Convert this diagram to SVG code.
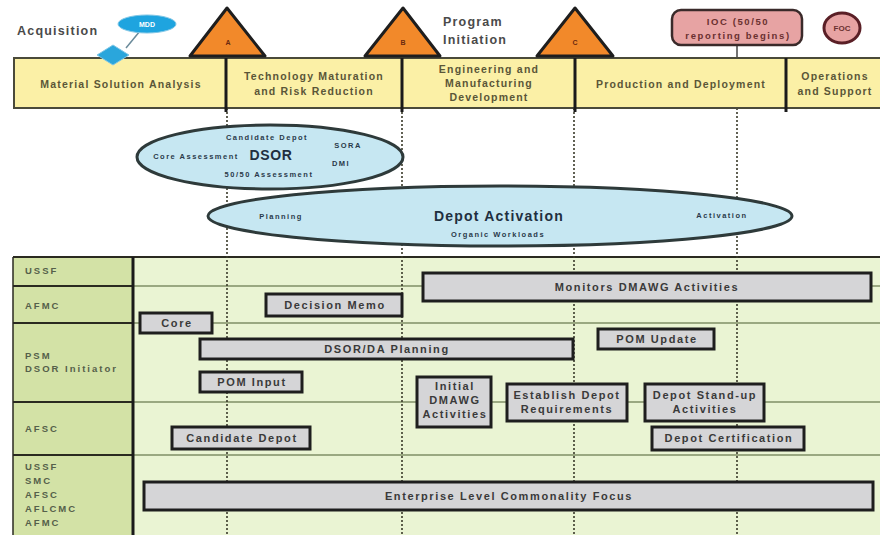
<svg xmlns="http://www.w3.org/2000/svg" width="880" height="535" viewBox="0 0 880 535">
<style>
text{font-family:"Liberation Sans",Arial,sans-serif;font-weight:bold}
.ph{fill:#fbf0a6;stroke:#4a4a3a;stroke-width:2}
.div{stroke:#1a1a1a;stroke-width:3}
.phl{font-size:10.5px;fill:#5a5638;text-anchor:middle;letter-spacing:1.2px}
.tri{fill:#f2892a;stroke:#1e1e1e;stroke-width:3;stroke-linejoin:round}
.tl{font-size:7px;fill:#6a2a10;text-anchor:middle}
.ell{fill:#c6e7f2;stroke:#2e3a3a;stroke-width:3}
.el{font-size:7.5px;fill:#2a3a4a;text-anchor:middle;letter-spacing:1.5px}
.bar{fill:#d5d5d7;stroke:#1e1e1e;stroke-width:3}
.bl{font-size:11px;fill:#3a3a3a;text-anchor:middle;letter-spacing:1.6px}
.rl{font-size:9.5px;fill:#55604a;letter-spacing:2px}
.hd{font-size:12.5px;fill:#4a4a4a;letter-spacing:1.2px}
.dash{stroke:#3a3a2a;stroke-width:1.6;stroke-dasharray:2 2;fill:none}
.row{stroke:#7f8f66;stroke-width:1.5}
.rowk{stroke:#2a2a20;stroke-width:2}
</style>
<rect width="880" height="535" fill="#ffffff"/>

<!-- swimlane grid background -->
<g id="grid">
<rect x="13" y="257" width="120" height="280" fill="#d3e2a6"/>
<rect x="133" y="257" width="747" height="280" fill="#eaf4d3"/>
<line class="rowk" x1="13" y1="257" x2="880" y2="257"/>
<line class="rowk" x1="13" y1="286" x2="133" y2="286"/>
<line class="row" x1="133" y1="286" x2="880" y2="286"/>
<line class="rowk" x1="13" y1="323" x2="133" y2="323"/>
<line class="row" x1="133" y1="323" x2="880" y2="323"/>
<line class="rowk" x1="13" y1="402" x2="133" y2="402"/>
<line class="row" x1="133" y1="402" x2="880" y2="402"/>
<line class="rowk" x1="13" y1="455" x2="133" y2="455"/>
<line class="row" x1="133" y1="455" x2="880" y2="455"/>
<line stroke="#2a2a20" stroke-width="1.5" x1="13" y1="257" x2="13" y2="535"/>
<line stroke="#1a1a1a" stroke-width="3" x1="133" y1="257" x2="133" y2="535"/>
<text class="rl" x="25" y="274">USSF</text>
<text class="rl" x="25" y="309">AFMC</text>
<text class="rl" x="25" y="359">PSM</text>
<text class="rl" x="25" y="372">DSOR Initiator</text>
<text class="rl" x="25" y="432">AFSC</text>
<text class="rl" x="25" y="470">USSF</text>
<text class="rl" x="25" y="484">SMC</text>
<text class="rl" x="25" y="498">AFSC</text>
<text class="rl" x="25" y="512">AFLCMC</text>
<text class="rl" x="25" y="526">AFMC</text>
</g>

<!-- connectors -->
<g id="connectors">
<line class="dash" x1="227" y1="108" x2="227" y2="535"/>
<line class="dash" x1="402" y1="108" x2="402" y2="535"/>
<line class="dash" x1="574" y1="108" x2="574" y2="535"/>
<line class="dash" x1="737" y1="108" x2="737" y2="535"/>
<line x1="126" y1="48" x2="140" y2="31" stroke="#6a8a9a" stroke-width="1.5"/>
<line x1="737" y1="45" x2="737" y2="58" stroke="#444" stroke-width="1.5"/>
</g>

<!-- phase bar -->
<g id="phases">
<rect class="ph" x="14" y="58" width="870" height="50"/>
<line class="div" x1="226" y1="58" x2="226" y2="112"/>
<line class="div" x1="402" y1="58" x2="402" y2="112"/>
<line class="div" x1="575" y1="58" x2="575" y2="112"/>
<line class="div" x1="786" y1="58" x2="786" y2="112"/>
<text class="phl" x="121" y="88">Material Solution Analysis</text>
<text class="phl" x="314" y="80">Technology Maturation</text>
<text class="phl" x="314" y="95">and Risk Reduction</text>
<text class="phl" x="489" y="73">Engineering and</text>
<text class="phl" x="489" y="87">Manufacturing</text>
<text class="phl" x="489" y="101">Development</text>
<text class="phl" x="681" y="88">Production and Deployment</text>
<text class="phl" x="835" y="80">Operations</text>
<text class="phl" x="835" y="95">and Support</text>
</g>

<g id="acquisition">
<text class="hd" x="17" y="35">Acquisition</text>
</g>
<g id="mdd">
<polygon points="113,45 129,55 113,65 97,55" fill="#2aa6dc" stroke="#7fc6e6" stroke-width="1"/>
<ellipse cx="147" cy="24" rx="29" ry="9" fill="#1ea4df" stroke="#7fc6e6" stroke-width="1"/>
<text x="147" y="27" font-size="7" fill="#ffffff" text-anchor="middle">MDD</text>
</g>
<g id="milestone-a">
<polygon class="tri" points="227,8 265,56 190,56"/>
<text class="tl" x="228" y="45">A</text>
</g>
<g id="milestone-b">
<polygon class="tri" points="403,8 440,56 365,56"/>
<text class="tl" x="403" y="45">B</text>
</g>
<g id="milestone-c">
<polygon class="tri" points="575,8 613,56 537,56"/>
<text class="tl" x="575" y="45">C</text>
</g>
<g id="program-initiation">
<text class="hd" x="443" y="26">Program</text>
<text class="hd" x="443" y="44">Initiation</text>
</g>
<g id="ioc">
<rect x="672" y="10" width="130" height="35" rx="9" fill="#e7a3a3" stroke="#3a2a2a" stroke-width="2.5"/>
<text x="738" y="25" font-size="9.5" fill="#6a3030" text-anchor="middle" letter-spacing="1.6">IOC (50/50</text>
<text x="738" y="39" font-size="9.5" fill="#6a3030" text-anchor="middle" letter-spacing="1.6">reporting begins)</text>
</g>
<g id="foc">
<ellipse cx="842" cy="28" rx="18" ry="15" fill="#e7a3a3" stroke="#5a1f26" stroke-width="3"/>
<text x="842" y="31" font-size="8" fill="#6a3030" text-anchor="middle">FOC</text>
</g>

<g id="dsor">
<ellipse class="ell" cx="270" cy="157" rx="133" ry="32"/>
<text class="el" x="267" y="140">Candidate Depot</text>
<text class="el" x="196" y="159">Core Assessment</text>
<text x="271" y="160" font-size="14" fill="#1f2f3f" text-anchor="middle" letter-spacing="0.6">DSOR</text>
<text class="el" x="348" y="148">SORA</text>
<text class="el" x="341" y="166">DMI</text>
<text class="el" x="269" y="177">50/50 Assessment</text>
</g>

<g id="depot-activation">
<ellipse class="ell" cx="500" cy="216" rx="292" ry="30"/>
<text class="el" x="281" y="219">Planning</text>
<text x="499" y="221" font-size="14" fill="#1f2f3f" text-anchor="middle" letter-spacing="1.2">Depot Activation</text>
<text class="el" x="498" y="237">Organic Workloads</text>
<text class="el" x="722" y="218">Activation</text>
</g>

<g id="monitors">
<rect class="bar" x="423" y="273" width="448" height="28"/>
<text class="bl" x="647" y="291">Monitors DMAWG Activities</text>
</g>
<g id="decision-memo">
<rect class="bar" x="266" y="294" width="136" height="22"/>
<text class="bl" x="335" y="309">Decision Memo</text>
</g>
<g id="core">
<rect class="bar" x="140" y="313" width="72" height="20"/>
<text class="bl" x="177" y="327">Core</text>
</g>
<g id="dsor-planning">
<rect class="bar" x="200" y="339" width="373" height="20"/>
<text class="bl" x="387" y="353">DSOR/DA Planning</text>
</g>
<g id="pom-update">
<rect class="bar" x="598" y="329" width="116" height="20"/>
<text class="bl" x="657" y="343">POM Update</text>
</g>
<g id="pom-input">
<rect class="bar" x="200" y="372" width="102" height="20"/>
<text class="bl" x="252" y="386">POM Input</text>
</g>
<g id="initial-dmawg">
<rect class="bar" x="417" y="377" width="74" height="50"/>
<text class="bl" x="455" y="390" letter-spacing="0.6">Initial</text>
<text class="bl" x="455" y="404" letter-spacing="0.6">DMAWG</text>
<text class="bl" x="455" y="418" letter-spacing="0.6">Activities</text>
</g>
<g id="establish-depot">
<rect class="bar" x="507" y="384" width="120" height="37"/>
<text class="bl" x="567" y="399" letter-spacing="0.7">Establish Depot</text>
<text class="bl" x="567" y="413" letter-spacing="0.7">Requirements</text>
</g>
<g id="depot-standup">
<rect class="bar" x="645" y="384" width="119" height="37"/>
<text class="bl" x="705" y="399" letter-spacing="0.7">Depot Stand-up</text>
<text class="bl" x="705" y="413" letter-spacing="0.7">Activities</text>
</g>
<g id="candidate-depot">
<rect class="bar" x="172" y="427" width="138" height="22"/>
<text class="bl" x="242" y="442">Candidate Depot</text>
</g>
<g id="depot-cert">
<rect class="bar" x="652" y="427" width="152" height="23"/>
<text class="bl" x="729" y="442">Depot Certification</text>
</g>
<g id="enterprise">
<rect class="bar" x="144" y="482" width="729" height="28"/>
<text class="bl" x="509" y="500">Enterprise Level Commonality Focus</text>
</g>
</svg>
